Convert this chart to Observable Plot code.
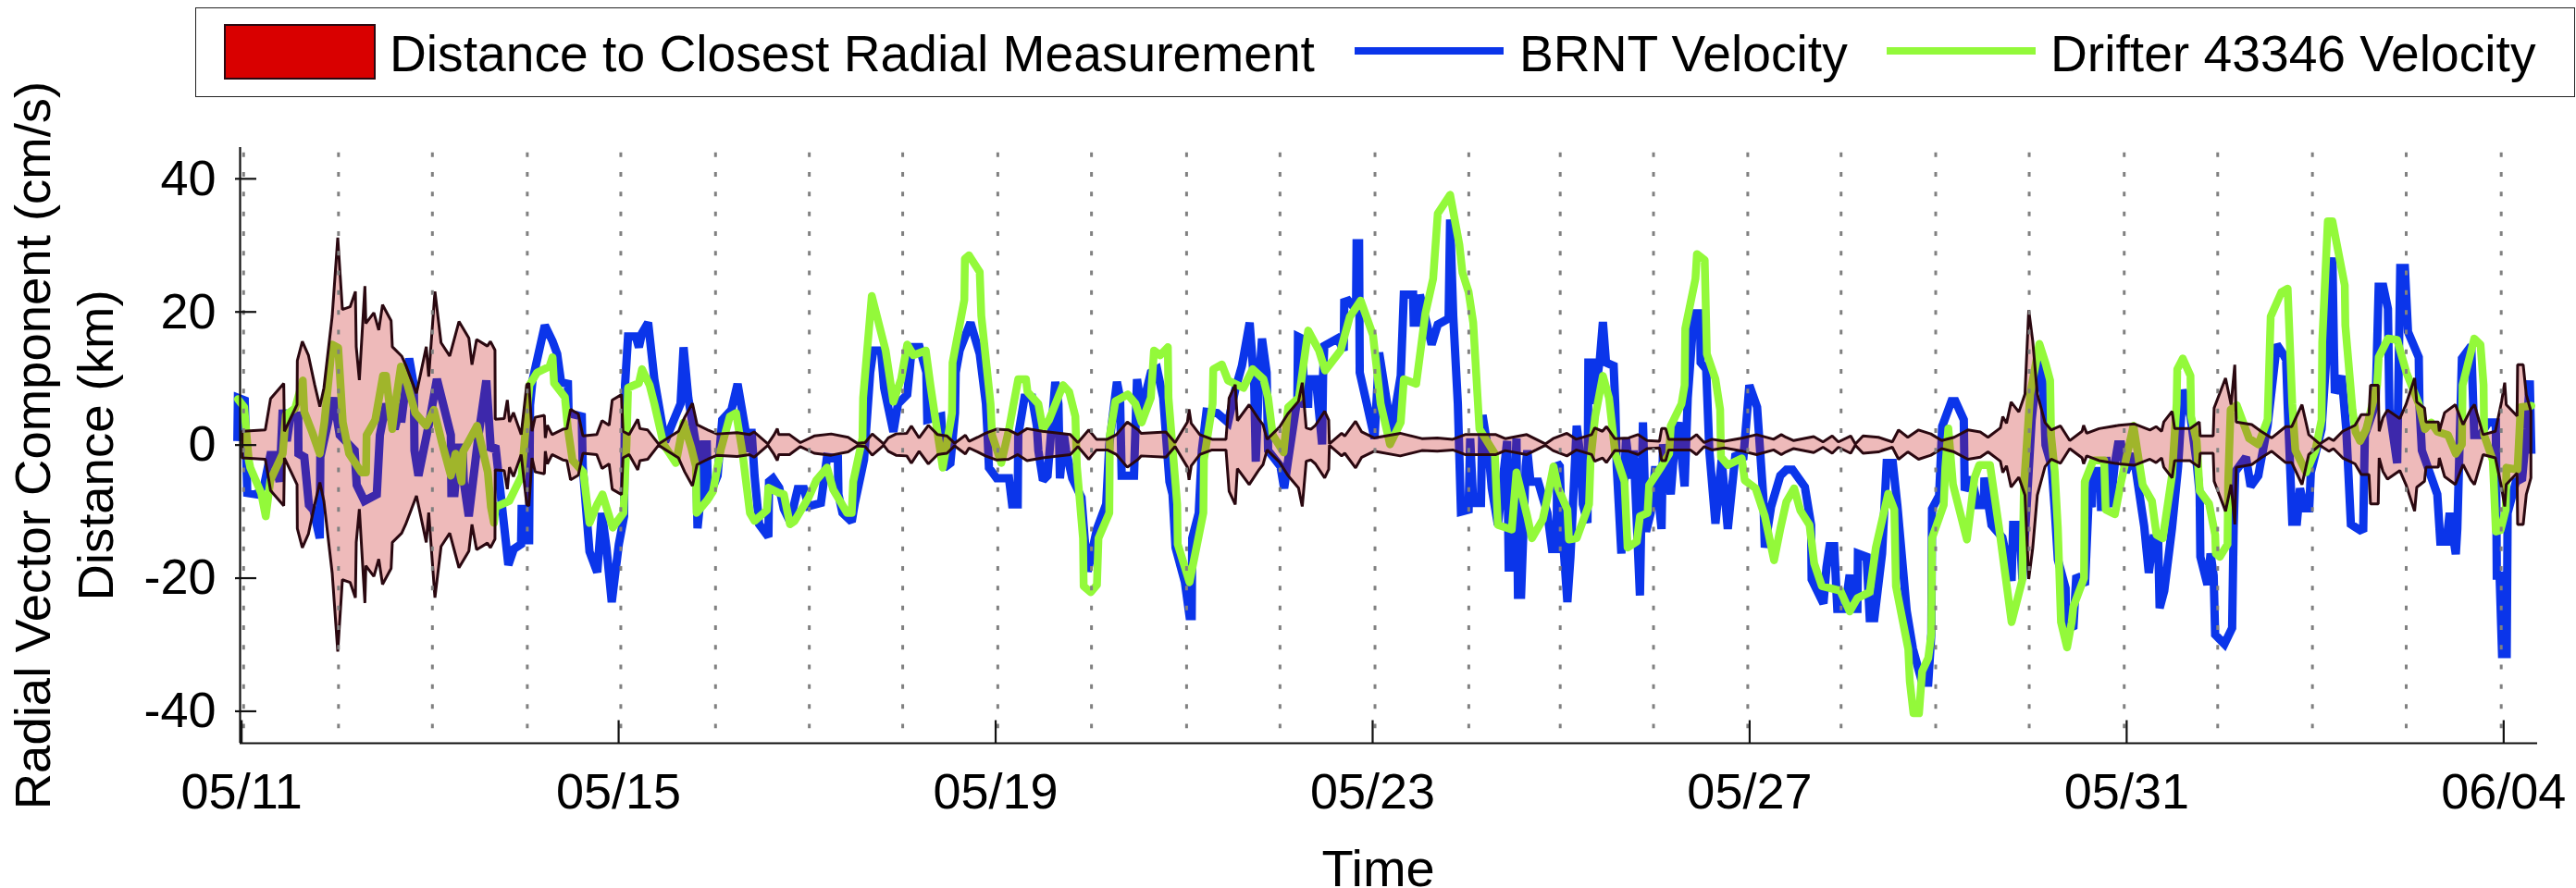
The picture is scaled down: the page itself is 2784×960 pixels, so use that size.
<!DOCTYPE html>
<html>
<head>
<meta charset="utf-8">
<script src="https://cdn.jsdelivr.net/npm/d3@7"></script>
<script src="https://cdn.jsdelivr.net/npm/@observablehq/plot@0.6"></script>
<style>
  html, body { margin: 0; padding: 0; background: #fff; }
  body { width: 2784px; height: 960px; overflow: hidden; font-family: "Liberation Sans", Arial, sans-serif; color: #000; }
  #legend { position: relative; width: 2784px; height: 106px; }
  #legend .box { position: absolute; left: 211px; top: 8px; width: 2570px; height: 95px; border: 1.5px solid #222; }
  #legend .patch { position: absolute; left: 242px; top: 26px; width: 160px; height: 56px; background: #d90000; border: 2px solid #2a0810; }
  #legend .ln { position: absolute; top: 51px; height: 8px; width: 161px; }
  #legend .txt { position: absolute; top: 28px; font-size: 55.2px; line-height: 60px; white-space: nowrap; }
  svg { display: block; overflow: visible !important; }
</style>
</head>
<body>
<div id="legend"></div>
<div id="chart"></div>
<script>
// x is days since 05/11, y is cm/s or km

const tickDays = [0, 4, 8, 12, 16, 20, 24];
const tickLabels = ["05/11", "05/15", "05/19", "05/23", "05/27", "05/31", "06/04"];
const yTicks = [-40, -20, 0, 20, 40];
// dotted day lines sit a touch off the axis ticks in the original
const gridDays = [0.021, 1.028, 2.024, 3.031, 4.023, 5.028, 6.023, 7.014, 8.023, 9.017, 10.026, 11.017, 12.025,
  13.02, 13.99, 14.98, 15.98, 16.97, 17.974, 18.966, 19.974, 20.966, 21.971, 22.966, 23.974];

const legendNames = ["Distance to Closest Radial Measurement", "BRNT Velocity", "Drifter 43346 Velocity"];
const colors = { patch: "#c10707", outline: "#2a0810", brnt: "#0b35ea", drifter: "#93f93a" };

// distance to closest radial measurement, drawn as +/- about zero
const distance = [
  [0.01,2],[0.256,2.2],[0.312,6.9],[0.452,9.2],[0.459,2],[0.593,6],[0.596,12.6],[0.649,15.5],[0.714,13.4],[0.78,9],[0.835,5.7],[0.878,8.5],[0.966,19.3],[1.025,31.1],[1.074,20.3],[1.156,20.7],[1.212,23],[1.221,14.7],[1.254,9.7],[1.313,23.8],[1.323,18.2],[1.408,19.8],[1.46,17.2],[1.5,21],[1.591,18.6],[1.604,14.7],[1.703,13.3],[1.745,12],[1.86,7.7],[1.964,14.7],[1.99,10.2],[2.056,23],[2.121,15.3],[2.213,13.3],[2.311,18.5],[2.416,16],[2.449,12],[2.498,15.8],[2.612,14.8],
  [2.645,15.5],[2.693,14.2],[2.696,3.8],[2.791,3.9],[2.824,6.7],[2.847,3.4],[2.889,4.8],[2.971,1.5],[3.03,9],[3.053,9.2],[3.086,2],[3.119,4.1],[3.217,4.4],[3.227,1],[3.249,2.9],[3.299,1.5],[3.413,2.3],[3.456,2.4],[3.495,5.3],[3.577,4.6],[3.626,1.3],[3.773,1.5],[3.829,3.6],[3.904,2.9],[3.937,6.7],[4.035,7.5],[4.051,2],[4.117,1.5],[4.208,3.8],[4.231,2.4],[4.313,2.2],[4.428,0.1],[4.64,2],[4.706,4.1],[4.788,6.2],[4.837,3],[4.951,2.2],[5.05,1.6],[5.262,1.8],[5.393,1.5],
  [5.442,1.9],[5.589,0.1],[5.655,1.5],[5.688,2.4],[5.704,1.5],[5.818,1.5],[5.933,0.3],[6.08,1.3],[6.26,1.6],[6.44,1.1],[6.538,0.2],[6.62,0.3],[6.696,1.6],[6.817,0.1],[6.866,1],[6.948,1.6],[7.062,1.7],[7.111,2.8],[7.193,1],[7.291,2.9],[7.389,1.5],[7.488,1.3],[7.569,0.2],[7.684,1.4],[7.723,0.5],[7.815,1.1],[7.897,1.7],[8.011,2.3],[8.142,2.2],
  [8.24,1.5],[8.338,2.4],[8.502,2],[8.797,1.5],[8.878,0.3],[8.993,2.2],[9.075,0.8],[9.189,0.8],[9.287,1.5],[9.402,3.4],[9.517,2.2],[9.549,1.7],[9.811,1.9],[9.909,0.3],[10.04,3.4],[10.057,5.3],[10.08,3.2],[10.171,1.5],[10.302,0.8],[10.449,0.8],[10.482,7],[10.547,9],[10.57,3.6],[10.695,6],[10.793,3.9],[10.842,3],[10.885,0.8],
  [11.015,2.6],[11.104,4.6],[11.218,6.5],[11.258,9.3],[11.277,6.3],[11.3,2.5],[11.349,2.3],[11.398,2.9],[11.496,5],[11.539,3.7],[11.546,0.1],[11.676,1.7],[11.709,1.3],[11.824,3.5],[11.889,1.9],[12.02,1],[12.298,1.7],[12.527,0.9],[12.691,1],[12.855,0.8],[12.986,1.5],[13.313,1.5],[13.411,0.9],[13.64,1.5],
  [13.739,0.8],[13.837,0.1],[13.919,0.9],[14.066,1.7],[14.165,0.8],[14.328,1.5],[14.361,2.5],[14.443,2],[14.485,2.7],[14.574,0.9],[14.721,1],[14.819,1.5],[14.917,0.6],[15.048,0.5],[15.071,2.4],[15.114,2.4],[15.146,0.8],[15.375,0.8],[15.441,1.5],[15.523,0.3],[15.605,0.8],[15.736,0.5],[15.932,1],[16.079,1.5],[16.259,0.8],[16.341,1.5],[16.39,1.1],
  [16.472,0.6],[16.685,1.2],[16.783,0.4],[16.881,1.3],[16.946,0.4],[17.077,1.3],[17.126,0.1],[17.208,1.3],[17.372,1.1],[17.519,0.4],[17.585,2.2],[17.683,1.1],[17.797,2.2],[17.928,1.6],[18.043,0.6],[18.174,1.1],[18.321,2.2],[18.452,1.9],[18.534,1.1],[18.665,2.5],[18.691,4.2],[18.73,3.2],[18.779,6.4],[18.861,4.9],[18.926,7.6],[18.966,20.2],[19.008,15.6],[19.057,7.6],[19.139,3.3],
  [19.204,2.2],[19.303,2.8],[19.401,0.6],[19.532,2],[19.548,2.9],[19.581,1.7],[19.712,2.4],[19.924,2.9],[20.088,3.1],[20.252,2.2],[20.317,2.7],[20.376,2],[20.399,3.4],[20.487,5],[20.514,2.4],[20.677,2.4],[20.775,3.4],[20.785,1.3],[20.923,1.3],[20.933,5.5],[21.054,10],[21.113,6],[21.152,12],[21.168,3.4],[21.332,3],[21.43,2],[21.544,1],[21.692,2.7],
  [21.757,2.7],[21.865,6],[21.937,1.5],[22.052,0.1],[22.15,1],[22.199,0.6],[22.297,2],[22.428,2.9],[22.494,4.5],[22.576,4.5],[22.592,8.9],[22.674,8.9],[22.684,2],[22.723,4],[22.772,5.2],[22.903,3.9],[22.968,6],[23.06,10],[23.083,6.4],[23.165,5.5],[23.181,3.4],[23.312,3.4],[23.322,2],[23.378,4.8],[23.492,6],[23.574,3],[23.656,5.3],[23.695,6],[23.787,1.5],[23.917,2],[23.983,6.5],[24.016,9.3],[24.032,6],[24.147,4.3],[24.153,12],[24.212,12],[24.245,7.5],[24.294,5]
];

// BRNT radial velocity
const brnt = [
  [-0.045,0.6],[-0.039,7.1],[0.033,6.7],[0.06,-7.2],[0.158,-7.4],[0.24,-6],[0.305,-1.5],[0.338,-1.5],[0.403,-5.5],[0.436,5.3],[0.479,0.6],[0.518,4.3],[0.6,4.4],[0.603,-1.3],[0.665,-1.8],[0.714,-9],[0.763,-9.8],[0.829,-14],[0.835,-1.8],[0.976,7.1],[1.041,1.5],[1.199,-0.8],[1.221,-6],[1.303,-8.4],[1.434,-7.4],[1.467,1.5],[1.532,6.2],[1.624,2.4],[1.69,6.2],[1.693,3.4],[1.778,13],[1.827,9],[1.834,-0.8],[1.876,-4.6],[1.991,3.4],[2.072,9.9],[2.22,1.5],[2.226,-7.2],[2.259,-7.2],[2.302,-0.4],[2.344,-0.4],[2.357,-5.5],[2.41,-10.7],[2.514,1.5],[2.596,9.7],[2.645,-0.8],
  [2.693,-0.1],[2.83,-18],[2.889,-15.6],[2.965,-14.9],[2.971,-9.6],[3.043,-9.6],[3.05,-14.9],[3.06,6],[3.086,9.7],[3.217,18],[3.299,15.6],[3.348,13.7],[3.39,9.4],[3.462,9.2],[3.469,4.8],[3.609,4.3],[3.619,-3.2],[3.691,-16],[3.773,-19.1],[3.822,-10.2],[3.871,-15.4],[3.927,-23.6],[4.002,-14.9],[4.058,-10.7],[4.068,9],[4.1,16.3],[4.182,16.3],[4.215,14.7],[4.248,16.8],[4.313,18.4],[4.379,9.9],[4.493,0.5],[4.575,3.4],[4.657,6.2],[4.689,14.7],[4.739,7.1],[4.82,0.1],[4.837,-12.5],[4.869,-8],[4.902,0.1],[4.935,0.1],[4.951,-8],[5.05,-4.6],[5.099,3.8],[5.197,5.3],[5.262,9.2],[5.344,2.4],[5.377,-1],
  [5.409,2.4],[5.442,-4.6],[5.491,-11.9],[5.589,-13.8],[5.596,-5.5],[5.638,-5],[5.704,-6.4],[5.753,-9.6],[5.818,-11.5],[5.9,-6.6],[5.966,-6.6],[6.015,-9.2],[6.146,-8.7],[6.211,-1.8],[6.326,-2],[6.332,-7.4],[6.375,-10.2],[6.473,-11.5],[6.506,-8.7],[6.604,-2.2],[6.669,10.9],[6.702,14.2],[6.784,14.2],[6.817,8.6],[6.915,2],[6.964,6.2],[7.062,7.6],[7.111,14.7],[7.193,14.7],[7.265,10.9],[7.275,3.8],[7.422,4.3],[7.455,-3.4],[7.52,-2.7],[7.569,4.8],[7.576,10.9],[7.618,14.2],[7.733,18.4],[7.831,13.7],[7.897,6.2],[7.913,2],[7.929,-3.4],[8.011,-5],[8.142,-5],
  [8.175,-8.9],[8.234,-8.9],[8.24,1.5],[8.306,7.1],[8.387,7.1],[8.437,2.9],[8.453,-0.8],[8.502,-5.3],[8.551,-4.6],[8.633,9.5],[8.666,6.2],[8.682,-5],[8.725,1.5],[8.747,-0.8],[8.813,-5],[8.911,-7.9],[8.944,-14],[8.977,-19],[9.075,-12.6],[9.173,-8.9],[9.206,0.1],[9.287,9.5],[9.32,7.1],[9.337,-4.6],[9.468,-4.6],[9.5,9.9],[9.549,5.3],[9.582,7.1],[9.647,10.9],[9.713,11.4],[9.778,7.1],[9.844,-5.5],[9.877,-7.4],[9.909,-15.4],[10.008,-20.6],[10.057,-25.7],[10.08,-25.7],[10.086,-14],[10.155,-10.2],[10.188,-0.8],[10.237,5],[10.351,4.8],[10.466,3.4],[10.547,8.6],[10.613,11.9],[10.695,18.4],[10.744,9],[10.76,-2.5],[10.793,9],[10.826,16],[10.875,10.9],
  [10.891,-0.8],[11.022,-3.2],[11.061,-6.5],[11.104,-2.2],[11.202,7.1],[11.208,16.3],[11.251,16],[11.277,6.2],[11.316,6.2],[11.323,9.9],[11.398,9.9],[11.464,0.1],[11.474,10.4],[11.487,14.9],[11.627,16],[11.693,14.2],[11.699,21.5],[11.742,21.7],[11.824,20.3],[11.83,30.3],[11.856,30.3],[11.863,10.9],[11.938,6.2],[12.02,1],[12.069,13.9],[12.2,2],[12.298,10.4],[12.331,22.6],[12.429,22.6],[12.436,18.4],[12.495,18.4],[12.501,22.6],[12.626,15.1],[12.691,18.1],[12.806,19],[12.822,33.9],[12.855,19.4],[12.904,6.2],[12.937,-10],[13.018,-9.7],[13.035,1],[13.067,-8.7],[13.149,-8.7],[13.166,4.5],[13.231,-1.3],[13.264,-6.5],[13.329,-12],[13.427,0.6],[13.444,-18.4],[13.476,-18.4],[13.526,1],[13.542,-22.5],[13.575,-22.5],[13.624,-3.2],
  [13.641,-0.8],[13.674,-5.5],[13.756,-5.5],[13.805,-7.9],[13.854,-10.2],[13.903,-15.6],[13.952,-15.6],[13.958,-2.7],[13.985,-3.2],[14.001,-10.2],[14.066,-23.6],[14.099,-16.8],[14.165,2.9],[14.214,-3],[14.23,-8.9],[14.279,-11.7],[14.289,12.4],[14.328,12.4],[14.345,6.2],[14.41,12.8],[14.443,18.5],[14.476,12.4],[14.557,11.9],[14.574,6.2],[14.59,-3.2],[14.639,-16.3],[14.688,1],[14.737,-5],[14.77,-0.8],[14.836,-22.6],[14.868,3.4],[14.901,-13],[14.95,-10.2],[14.999,-3.2],[15.065,-12.6],[15.081,0.1],[15.163,-7.4],[15.212,1.5],[15.245,3.4],[15.31,-6.2],[15.343,7.1],[15.408,19.8],[15.474,19.8],[15.48,12.4],[15.539,11.4],[15.572,-0.8],[15.637,-11.8],[15.703,-2.2],[15.768,-12.6],[15.85,-1.3],[15.932,-2.2],[15.997,9],[16.079,5.7],[16.145,-7.9],[16.161,-15.4],[16.227,-9.3],[16.325,-4.6],[16.39,-3.7],
  [16.455,-3.7],[16.586,-6.3],[16.652,-12],[16.658,-20.2],[16.783,-23.8],[16.815,-18.4],[16.848,-15.2],[16.897,-15.2],[16.93,-24.6],[17.012,-24.6],[17.061,-19.5],[17.094,-24.6],[17.143,-24.6],[17.149,-16.3],[17.241,-16.8],[17.274,-26],[17.323,-26],[17.405,-16.3],[17.454,-2.7],[17.519,-2.7],[17.568,-9.2],[17.666,-24.9],[17.732,-30.6],[17.83,-35.7],[17.895,-35.7],[17.928,-28.3],[17.935,-9.6],[18.01,-7.6],[18.043,2.8],[18.141,6.6],[18.183,6.6],[18.272,3.8],[18.282,-6.8],[18.354,-4.9],[18.419,-9],[18.485,-9],[18.491,-4.9],[18.566,-12],[18.681,-13.9],[18.779,-20.4],[18.796,-12],[18.861,-12],[18.894,-20.2],[18.992,3.8],[19.057,12.3],[19.09,12.3],[19.123,6.6],[19.139,0],
  [19.204,-3.2],[19.237,-9.7],[19.27,-17.2],[19.352,-21.5],[19.358,-26.7],[19.434,-27.6],[19.466,-19.6],[19.558,-21],[19.597,-8],[19.63,-9.3],[19.646,-3.9],[19.722,-3.9],[19.728,-9.3],[19.777,-9.3],[19.784,-1.8],[19.826,-9.3],[19.875,-2.7],[19.908,0.1],[19.941,0.1],[19.99,-4.1],[20.072,-1.3],[20.121,-6],[20.186,-12.2],[20.235,-19.2],[20.284,-14],[20.334,-14],[20.35,-24.5],[20.399,-21.9],[20.481,-12.5],[20.546,-3.2],[20.595,8.3],[20.677,4.3],[20.743,-2.7],[20.775,-7.4],[20.782,-16.8],[20.857,-21],[20.89,-16.3],[20.923,-19.6],[20.939,-28.5],[21.037,-29.9],[21.119,-27.5],[21.135,-12.5],[21.152,-4],[21.266,-1.8],[21.315,-6.2],[21.397,-4.6],[21.414,-3.2],[21.495,2.9],[21.593,15.1],[21.659,13.7],
  [21.692,12.8],[21.708,6.2],[21.757,-11.5],[21.807,-11.5],[21.839,-6.5],[21.888,-9.5],[21.937,-9.5],[21.954,-4.1],[22.068,2.4],[22.117,12.8],[22.183,28.2],[22.199,14.5],[22.209,7.8],[22.281,10.4],[22.33,2.4],[22.379,-11.9],[22.477,-12.8],[22.51,-12.6],[22.527,1.5],[22.641,6.2],[22.674,23.8],[22.723,23.8],[22.772,20.5],[22.788,5.3],[22.87,-2.7],[22.903,26.6],[22.952,26.6],[22.985,17],[23.099,13.2],[23.106,6.2],[23.132,-0.8],[23.296,-7.4],[23.328,-14.5],[23.394,-14.5],[23.427,-10.2],[23.492,-16.4],[23.508,-12.6],[23.557,13],[23.656,14.9],[23.688,1.5],[23.754,1.5],[23.836,3.4],[23.917,3.4],[23.927,-19.6],[23.957,-19.6],[23.983,-31.4],[24.032,-31.4],[24.042,-10.2],[24.13,-5.5],[24.196,-5],[24.245,2.4],[24.277,9.7],[24.294,-1.3]
];

// Drifter 43346 velocity
const drifter = [
  [-0.039,6.9],[0.027,5.7],[0.076,-2.3],[0.092,-3.4],[0.207,-7.2],[0.256,-10.7],[0.305,-5.3],[0.436,-1.3],[0.469,4.5],[0.567,5.5],[0.649,9.7],[0.665,5],[0.747,2],[0.829,-1.3],[0.878,3.4],[0.96,15.1],[1.025,14.6],[1.074,3.4],[1.14,-1.3],[1.271,-4.1],[1.32,-4.1],[1.326,1.5],[1.418,3.8],[1.5,10.4],[1.532,10.4],[1.598,2.4],[1.631,6.2],[1.69,11.8],[1.761,9],[1.843,4.8],[1.958,2.9],[2.04,5.3],[2.121,0.6],[2.22,-4.6],[2.269,-1.3],[2.334,-5.5],[2.35,-1],[2.498,2.9],[2.612,-4.1],[2.645,-9.3],
  [2.677,-11.7],[2.693,-9.3],[2.84,-8.4],[2.971,-4.6],[3.053,9],[3.135,10.9],[3.266,11.8],[3.299,13.2],[3.315,9.3],[3.43,7.2],[3.462,2.4],[3.511,-2.3],[3.626,-4.1],[3.691,-11.7],[3.773,-8.9],[3.829,-7.4],[3.937,-12.4],[4.051,-10.2],[4.084,0.1],[4.1,8.6],[4.215,9.3],[4.248,11.4],[4.329,9],[4.379,6.2],[4.477,0.1],[4.608,-2.7],[4.689,3.4],[4.771,-0.4],[4.82,-3.2],[4.827,-10.2],[4.935,-8.4],[5,-7],[5.082,-0.8],[5.18,4.3],[5.246,4.8],[5.311,-0.8],[5.393,-10.2],
  [5.442,-11.4],[5.573,-9.8],[5.589,-6.4],[5.704,-7.2],[5.753,-7.4],[5.818,-11.9],[5.868,-11.4],[6.015,-7.9],[6.097,-5.3],[6.211,-3.4],[6.277,-6.7],[6.424,-10.2],[6.473,-10.2],[6.489,-5.5],[6.587,1],[6.594,7.1],[6.686,22.4],[6.833,14.2],[6.915,6.5],[6.997,9.9],[7.062,15.1],[7.128,13.5],[7.259,14.2],[7.308,9],[7.357,4.3],[7.439,-3.4],[7.537,4.8],[7.543,12.4],[7.668,21.8],[7.674,28],[7.717,28.5],[7.831,26],[7.848,19.4],[7.946,6.2],[7.962,1.5],[8.06,-2.7],[8.142,2.4],
  [8.191,6.2],[8.24,9.9],[8.322,9.9],[8.338,8],[8.453,6.2],[8.502,2.4],[8.567,3.8],[8.715,9],[8.78,8],[8.846,4.3],[8.862,-3.2],[8.927,-14],[8.934,-21.2],[9.009,-22.1],[9.075,-21],[9.091,-14],[9.206,-10.2],[9.212,1.5],[9.271,6.6],[9.402,7.6],[9.484,6.2],[9.549,3.4],[9.647,7.1],[9.68,14.2],[9.746,13.5],[9.827,14.7],[9.834,7.1],[9.877,-0.4],[9.926,-8.9],[9.932,-14.9],[10.057,-20.6],[10.204,-10.2],[10.21,-2.2],[10.302,6.2],[10.309,11.4],[10.4,12.1],[10.466,9.7],[10.629,8.6],[10.727,11.4],[10.842,9.9],[10.891,7.1],
  [10.94,1.5],[11.055,-1.1],[11.104,5.7],[11.218,7.1],[11.316,17.2],[11.431,14.2],[11.496,11.2],[11.66,14.2],[11.758,19.3],[11.873,21.7],[12.004,16.5],[12.085,6.2],[12.184,0.1],[12.298,3.4],[12.331,9.9],[12.462,9.2],[12.56,19.8],[12.642,25],[12.691,34.8],[12.822,37.6],[12.92,30.1],[12.953,25.9],[13.018,23],[13.067,18.4],[13.133,2.4],[13.296,-1.3],[13.329,-12],[13.476,-12.7],[13.526,-4.1],[13.64,-10.7],
  [13.69,-14],[13.805,-11.2],[13.854,-7.9],[13.919,-3.2],[13.968,-6.5],[14.066,-9.7],[14.083,-14.2],[14.165,-14],[14.296,-8.9],[14.312,-2.3],[14.361,4.3],[14.443,10.4],[14.508,7.1],[14.574,-1.3],[14.672,-5.5],[14.705,-15.4],[14.803,-14.5],[14.836,-10.7],[14.917,-10.2],[14.934,-6],[15.065,-3.2],[15.146,-1.3],[15.163,2.9],[15.277,6.2],[15.31,9],[15.317,17.5],[15.425,25],[15.441,28.7],[15.523,27.8],[15.546,13.7],[15.637,9.9],[15.687,5.3],[15.696,-1.8],[15.768,-3],[15.916,-2],[15.948,-5.3],[16.063,-6.5],[16.161,-10.7],[16.259,-17.3],[16.325,-12.6],[16.39,-8.5],
  [16.472,-6.5],[16.537,-9.8],[16.635,-12],[16.685,-17.8],[16.766,-21.2],[16.963,-21.9],[17.061,-25],[17.143,-23],[17.274,-22.1],[17.339,-15.4],[17.47,-7.3],[17.535,-9.7],[17.552,-21.2],[17.683,-30.7],[17.699,-35.5],[17.738,-40.3],[17.797,-40.3],[17.83,-34],[17.895,-32],[17.928,-28.3],[17.935,-14],[18.059,-9],[18.076,-3.4],[18.108,2.5],[18.157,-5.9],[18.305,-14.2],[18.386,-4.9],[18.436,-3],[18.55,-3],[18.648,-12.6],[18.779,-26.6],[18.894,-20.2],[18.91,-6.3],[18.976,7.6],[19.074,15.2],[19.139,12.3],
  [19.188,9.7],[19.198,1.5],[19.237,-4],[19.27,-12.5],[19.303,-26.6],[19.368,-30.4],[19.417,-26.6],[19.434,-24.3],[19.548,-20],[19.555,-5.5],[19.646,-2.3],[19.761,-2.3],[19.777,-9.7],[19.875,-10.4],[19.941,-5.5],[20.072,2.9],[20.17,-6],[20.268,-8.4],[20.317,-13.5],[20.383,-14],[20.481,-4.6],[20.53,6.2],[20.537,11.4],[20.595,13],[20.677,10.4],[20.684,4.3],[20.743,0.6],[20.775,-6.9],[20.874,-8.8],[20.939,-13.5],[20.946,-16.3],[20.988,-16.8],[21.07,-14.9],[21.077,-5.5],[21.103,5.3],[21.168,6],[21.299,1],[21.397,0.1],[21.495,3.8],[21.528,19.3],[21.643,23],[21.708,23.5],
  [21.757,6.2],[21.79,-0.8],[21.905,-4.1],[22.003,-0.8],[22.068,3.8],[22.075,15.5],[22.134,33.6],[22.183,33.6],[22.314,24],[22.32,18],[22.396,5.3],[22.428,2],[22.477,0.6],[22.543,2.4],[22.657,9],[22.674,13.2],[22.772,16],[22.87,15.8],[22.968,10.9],[23.099,6.2],[23.165,2.4],[23.23,3.4],[23.296,2],[23.41,1.5],[23.492,-1.3],[23.557,0.1],[23.564,9],[23.688,16],[23.754,15.1],[23.787,9],[23.793,1.5],[23.885,-2.3],[23.917,-13],[23.967,-12.8],[24.022,-9.7],[24.029,-3.4],[24.147,-3.7],[24.18,5.7],[24.294,5.9]
];

// legend goes above the svg, laid out to match the original box
const legend = d3.select("#legend");
legend.append("div").attr("class", "box");
legend.append("div").attr("class", "patch");
legend.append("div").attr("class", "ln").style("left", "1464px").style("background", colors.brnt);
legend.append("div").attr("class", "ln").style("left", "2039px").style("background", colors.drifter);
[421, 1642, 2216].forEach((left, i) => {
  legend.append("span").attr("class", "txt").style("left", left + "px").text(legendNames[i]);
});

const xMin = -0.016, xMax = 24.36, yMin = -44.8, yMax = 44.7;

const chart = Plot.plot({
  width: 2784,
  height: 854,
  marginTop: 53,
  marginBottom: 157,
  marginLeft: 259,
  marginRight: 42,
  x: { type: "linear", domain: [xMin, xMax] },
  y: { domain: [yMin, yMax] },
  style: { fontFamily: "'Liberation Sans', Arial, sans-serif", color: "#000", background: "#fff" },
  marks: [
    Plot.line(brnt, { x: d => d[0], y: d => d[1], stroke: colors.brnt, strokeWidth: 9, strokeLinejoin: "miter", strokeMiterlimit: 2, strokeLinecap: "butt" }),
    Plot.line(drifter, { x: d => d[0], y: d => d[1], stroke: colors.drifter, strokeWidth: 8.5, strokeLinejoin: "round" }),
    Plot.areaY(distance, { x: d => d[0], y1: d => -d[1], y2: d => d[1], fill: colors.patch, fillOpacity: 0.277, stroke: colors.outline, strokeWidth: 3, strokeLinejoin: "miter" }),
    Plot.ruleX(gridDays, { y1: 43.9, y2: -42.6, stroke: "#808080", strokeWidth: 3, strokeDasharray: "5 16.3" }),
    Plot.ruleX([xMin], { stroke: "#111", strokeWidth: 2.2 }),
    Plot.ruleY([yMin], { stroke: "#111", strokeWidth: 1.8 }),
    Plot.ruleY(yTicks, { x1: -0.065, x2: 0.161, stroke: "#111", strokeWidth: 2.2 }),
    Plot.ruleX(tickDays, { y1: yMin, y2: -41.4, stroke: "#111", strokeWidth: 2.2 }),
    Plot.axisY(yTicks, { tickSize: 0, tickPadding: 26, fontSize: 54, label: null, tickFormat: d => String(d) }),
    Plot.axisX(tickDays, { tickSize: 0, tickPadding: 32, fontSize: 54, label: null, tickFormat: (d, i) => tickLabels[i] }),
    Plot.text(["Time"], { x: 12.06, frameAnchor: "bottom", dy: 154, fontSize: 56, fill: "#000" }),
    Plot.text(["Radial Vector Component (cm/s)\nDistance (km)"], { frameAnchor: "left", textAnchor: "middle", dx: -193, rotate: -90, fontSize: 54.5, lineHeight: 1.25, fill: "#000" })
  ]
});
document.getElementById("chart").appendChild(chart);
</script>
</body>
</html>
